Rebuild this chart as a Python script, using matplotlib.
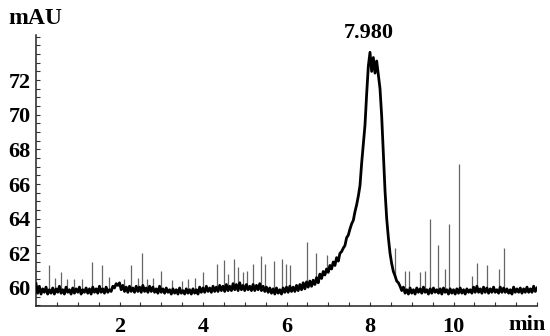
import numpy as np
import matplotlib
matplotlib.use("Agg")
import matplotlib.pyplot as plt

# Chromatogram trace sampled every 0.04 min (0 .. 12 min), values in mAU
t_start, t_step = 0.0, 0.04
signal = [
    60.25, 59.7, 60.1, 59.65, 59.95, 59.75, 60.05, 59.65, 59.9, 59.7,
    60.0, 59.65, 59.95, 59.75, 60.1, 59.7, 59.9, 59.65, 60.05, 59.75,
    59.9, 59.65, 60.0, 59.7, 59.95, 59.75, 60.05, 59.65, 59.9, 59.75,
    60.0, 59.7, 59.95, 59.65, 60.05, 59.75, 59.95, 59.7, 60.1, 59.75,
    59.95, 59.7, 60.05, 59.75, 59.9, 59.8, 60.1, 60.0, 60.25, 60.15,
    60.3, 59.9, 60.15, 59.8, 60.05, 59.75, 60.1, 59.8, 60.0, 59.75,
    60.1, 59.8, 60.05, 59.75, 60.15, 59.8, 60.0, 59.75, 60.1, 59.8,
    60.05, 59.75, 59.95, 59.7, 60.1, 59.75, 59.95, 59.7, 60.0, 59.75,
    59.9, 59.65, 59.95, 59.7, 59.9, 59.65, 60.0, 59.7, 59.85, 59.65,
    59.95, 59.7, 59.9, 59.65, 59.95, 59.7, 59.9, 59.65, 60.05, 59.75,
    60.0, 59.75, 60.1, 59.8, 60.0, 59.75, 60.1, 59.8, 60.05, 59.8,
    60.15, 59.85, 60.1, 59.8, 60.2, 59.85, 60.1, 59.85, 60.25, 59.9,
    60.2, 59.85, 60.3, 59.9, 60.15, 59.85, 60.2, 59.9, 60.1, 59.85,
    60.2, 59.85, 60.15, 59.9, 60.25, 59.85, 60.1, 59.8, 60.05, 59.75,
    60.0, 59.7, 59.95, 59.65, 60.0, 59.7, 59.9, 59.65, 60.0, 59.75,
    60.05, 59.75, 60.1, 59.8, 60.05, 59.8, 60.15, 59.85, 60.2, 59.9,
    60.3, 59.95, 60.35, 60.05, 60.4, 60.1, 60.45, 60.2, 60.6, 60.3,
    60.8, 60.55, 60.95, 60.75, 61.1, 60.9, 61.3, 61.1, 61.5, 61.3,
    61.75, 61.55, 62.0, 62.1, 62.3, 62.45, 62.9, 63.05, 63.4, 63.7,
    63.9, 64.4, 64.8, 65.3, 65.9, 67.2, 68.3, 69.4, 71.2, 72.8,
    73.6, 72.5, 73.3, 72.4, 73.1, 72.3, 71.5, 69.9, 67.8, 65.6,
    64.0, 62.9, 62.0, 61.4, 60.95, 60.7, 60.4, 60.3, 60.1, 59.85,
    60.05, 59.7, 59.9, 59.65, 60.0, 59.7, 59.9, 59.65, 60.0, 59.75,
    59.95, 59.7, 60.05, 59.75, 59.9, 59.65, 59.95, 59.7, 60.0, 59.75,
    59.9, 59.7, 59.95, 59.65, 60.0, 59.75, 59.9, 59.65, 59.95, 59.7,
    59.9, 59.65, 59.95, 59.7, 60.0, 59.7, 59.9, 59.65, 59.95, 59.75,
    59.9, 59.7, 60.05, 59.75, 60.1, 59.75, 59.95, 59.7, 60.05, 59.75,
    60.0, 59.7, 59.95, 59.75, 60.05, 59.75, 59.9, 59.7, 60.05, 59.75,
    60.0, 59.75, 59.95, 59.7, 59.9, 59.65, 60.05, 59.75, 59.95, 59.75,
    60.0, 59.7, 59.95, 59.75, 60.05, 59.75, 59.95, 59.75, 60.1, 59.8,
    60.0,
]

# Narrow noise spikes: retention time (min) and top value (mAU)
spike_times = [0.31, 0.45, 0.6, 0.75, 0.9, 1.1, 1.33, 1.57, 1.75, 2.1,
               2.27, 2.45, 2.55, 2.65, 2.8, 3.0, 3.25, 3.5, 3.63, 3.8,
               4.0, 4.33, 4.51, 4.6, 4.75, 4.85, 4.95, 5.05, 5.2, 5.39,
               5.48, 5.7, 5.89, 5.98, 6.08, 6.48, 6.7, 6.98, 8.61, 8.83,
               8.93, 9.2, 9.32, 9.43, 9.63, 9.8, 9.9, 10.14, 10.45, 10.57,
               10.81, 11.09, 11.21]
spike_tops = [61.3, 60.6, 60.9, 60.5, 60.5, 60.5, 61.5, 61.3, 60.65, 60.5,
              61.3, 60.6, 62.0, 60.5, 60.6, 61.0, 60.45, 60.4, 60.5, 60.6,
              60.95, 61.4, 61.6, 60.8, 61.7, 61.2, 60.9, 61.0, 61.4, 61.85,
              61.4, 61.55, 61.7, 61.4, 61.3, 62.65, 62.0, 61.9, 62.3, 61.0,
              61.0, 60.9, 61.0, 64.0, 62.5, 61.1, 63.7, 67.15, 60.7, 61.45,
              61.3, 61.1, 62.3]

peak_label = "7.980"
peak_time = 8.03
peak_value = 73.6
x_ticks = [2, 4, 6, 8, 10]
y_ticks = [60, 62, 64, 66, 68, 70, 72]

FONT = "Liberation Serif"
W, H = 550, 336
fig = plt.figure(figsize=(W / 100, H / 100), dpi=100)
ax = fig.add_axes([36 / W, 1 - 306 / H, (537 - 36) / W, (306 - 35) / H])

times = t_start + t_step * np.arange(len(signal))
sig = np.array(signal)
base = np.interp(spike_times, times, sig)
ax.vlines(spike_times, base, spike_tops, color="#666666", lw=0.9, zorder=2)
ax.plot(times, sig, color="black", lw=2.0, zorder=3)

ax.set_xlim(0, 12)
ax.set_ylim(58.96, 74.6)
for s in ("top", "right"):
    ax.spines[s].set_visible(False)
for s in ("left", "bottom"):
    ax.spines[s].set_linewidth(1.1)
    ax.spines[s].set_color("#222222")

ax.set_xticks(x_ticks)
ax.set_yticks(y_ticks)
ax.set_xticks(np.arange(0.5, 12.01, 0.5), minor=True)
ax.set_yticks(np.arange(59.0, 74.51, 0.5), minor=True)
ax.tick_params(axis="both", which="both", direction="in", length=3,
               width=0.8, color="#333333")
ax.tick_params(axis="x", which="major", pad=8)
ax.tick_params(axis="y", which="major", pad=4)
for lab in ax.get_xticklabels() + ax.get_yticklabels():
    lab.set_fontfamily(FONT)
    lab.set_fontweight("bold")
    lab.set_fontsize(16)

fig.text(35 / W, 1 - 19 / H, "mAU", ha="center", va="center",
         fontfamily=FONT, fontweight="bold", fontsize=17)
fig.text(527 / W, 1 - 325 / H, "min", ha="center", va="center",
         fontfamily=FONT, fontweight="bold", fontsize=16)
ax.annotate(peak_label, xy=(peak_time, peak_value), xytext=(-2, 7),
            textcoords="offset points", ha="center", va="bottom",
            fontfamily=FONT, fontweight="bold", fontsize=16)

fig.savefig("out.png", dpi=100, facecolor="white")
